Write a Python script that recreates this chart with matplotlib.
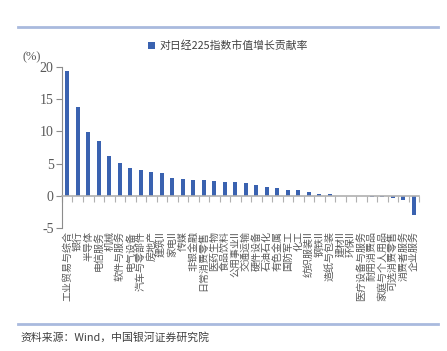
import matplotlib
matplotlib.use("Agg")
import matplotlib.pyplot as plt
import matplotlib.transforms as mtransforms
import numpy as np

plt.rcParams['font.family'] = ['Noto Sans CJK SC', 'DejaVu Sans']

# data
sectors = ['工业贸易与综合', '银行', '半导体', '电信服务', '机械', '软件与服务',
           '电气设备', '汽车与零部件', '房地产', '建筑II', '家电II', '传媒',
           '非银金融', '日常消费零售', '医药生物', '食品饮料', '公用事业II',
           '交通运输', '硬件设备', '石油石化', '有色金属', '国防军工', '化工',
           '纺织服装II', '钢铁II', '造纸与包装', '建材II', '环保II',
           '医疗设备与服务', '耐用消费品', '家庭与个人用品', '可选消费零售',
           '消费者服务', '企业服务']
contribution = [19.4, 13.8, 9.9, 8.5, 6.1, 5.1, 4.3, 4.0, 3.7, 3.5, 2.7, 2.6,
                2.5, 2.4, 2.3, 2.2, 2.07, 1.96, 1.65, 1.34, 1.14, 0.98, 0.98,
                0.67, 0.36, 0.26, 0.04, 0.03, 0.02, -0.1, -0.18, -0.4, -0.67,
                -3.0]
yticks = [-5, 0, 5, 10, 15, 20]
legend_label = '对日经225指数市值增长贡献率'
source_note = '资料来源：Wind，中国银河证券研究院'

bar_color = '#3a62b0'
grey = '#595959'
rule_color = '#a9bade'

fig = plt.figure(figsize=(4.47, 3.51), dpi=100)
ax = fig.add_axes([0.1387, 0.350, 0.7987, 0.460])

x = np.arange(len(sectors))
ax.bar(x, contribution, width=0.42, color=bar_color, label=legend_label, zorder=2)

ax.set_xlim(-0.5, len(sectors) - 0.5)
ax.set_ylim(-5, 20)
ax.set_yticks(yticks)
ax.set_yticklabels([str(v) for v in yticks], family='Liberation Serif',
                   fontsize=10, color=grey)

for s in ['top', 'right']:
    ax.spines[s].set_visible(False)
ax.spines['left'].set_color('#8c8c8c')
ax.spines['bottom'].set_color('#b0b0b0')
ax.spines['bottom'].set_position(('data', 0))
ax.spines['bottom'].set_linewidth(1.2)

ax.tick_params(axis='y', direction='out', length=4, color='#8c8c8c', pad=2)
ax.set_xticks(np.arange(len(sectors) + 1) - 0.5)
ax.tick_params(axis='x', direction='out', length=4, color='#b0b0b0',
               labelbottom=False)

# category labels hang below the axes, rotated
trans = mtransforms.blended_transform_factory(ax.transData, ax.transAxes)
for xi, name in zip(x, sectors):
    ax.text(xi, -0.02, name, transform=trans, rotation=90, ha='center',
            va='top', fontsize=7.2, color=grey)

ax.text(-0.11, 1.02, '(%)', transform=ax.transAxes, family='Liberation Serif',
        fontsize=9, color=grey, va='bottom', ha='left')

ax.legend(loc='lower left', bbox_to_anchor=(0.23, 1.07), frameon=False,
          fontsize=7.8, handlelength=0.6, handleheight=0.6, handletextpad=0.4,
          borderaxespad=0, labelcolor='#404040')

# header and footer rules, source note
fig.add_artist(plt.Line2D([0.04, 0.98], [0.924, 0.924], color=rule_color, lw=2))
fig.add_artist(plt.Line2D([0.04, 0.98], [0.076, 0.076], color=rule_color, lw=2))
fig.text(0.045, 0.038, source_note, fontsize=7.8, color='#404040',
         va='center', ha='left')

fig.savefig('out.png', dpi=100)
